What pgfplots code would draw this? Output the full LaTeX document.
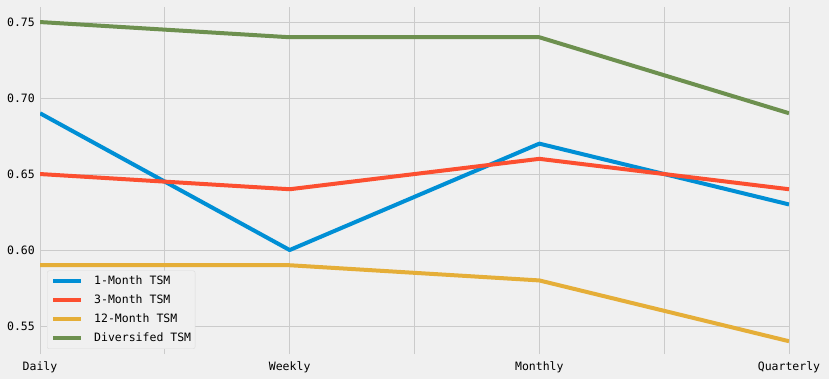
\documentclass[border=0pt]{standalone}
\usepackage{pgfplots}
\pgfplotsset{compat=1.18}
\usepackage{fontspec}
\setmainfont{DejaVu Sans Mono}
\definecolor{bgc}{HTML}{F0F0F0}
\definecolor{gridc}{HTML}{CBCBCB}
\definecolor{cA}{HTML}{008FD5}
\definecolor{cB}{HTML}{FC4F30}
\definecolor{cC}{HTML}{E5AE38}
\definecolor{cD}{HTML}{6D904F}
\begin{document}
\begin{tikzpicture}
\fill[bgc] (-40bp,-25bp) rectangle (789bp,354bp);
\useasboundingbox (-40bp,-25bp) rectangle (789bp,354bp);
\begin{axis}[
  at={(0,0)}, anchor=south west,
  scale only axis, width=749bp, height=347bp,
  xmin=0, xmax=3, ymin=0.5316, ymax=0.7599,
  axis line style={draw=none},
  major tick length=0pt,
  grid=major,
  grid style={color=gridc, line width=1bp},
  xtick={0,0.5,1,1.5,2,2.5,3},
  xticklabels={Daily,,Weekly,,Monthly,,Quarterly},
  ytick={0.55,0.60,0.65,0.70,0.75},
  yticklabel style={/pgf/number format/fixed, /pgf/number format/fixed zerofill, /pgf/number format/precision=2, anchor=east, inner sep=0pt, xshift=-5bp},
  xticklabel style={anchor=base, inner sep=0pt, yshift=-16bp},
  /pgf/number format/assume math mode=true,
  tick label style={font=\fontsize{11.5bp}{13bp}\selectfont, text=black},
  legend cell align=left,
  legend image code/.code={\draw[#1] (0bp,0bp) -- (28bp,0bp);},
  legend style={at={(0,0)}, anchor=south west, xshift=7bp, yshift=5bp,
    fill=bgc, draw=gridc!70, rounded corners=2bp,
    font=\fontsize{11.5bp}{13bp}\selectfont,
    inner xsep=4bp, inner ysep=5bp, row sep=8bp,
    nodes={text height=8.5bp, text depth=2.5bp, inner sep=0pt},
    /tikz/column 2/.style={column sep=0pt},
    /tikz/every odd column/.style={column sep=11bp}},
  every axis plot/.append style={line width=4bp, line join=round, no markers},
]
\addplot[cA] coordinates {(0,0.69) (1,0.60) (2,0.67) (3,0.63)};
\addlegendentry{1-Month TSM}
\addplot[cB] coordinates {(0,0.65) (1,0.64) (2,0.66) (3,0.64)};
\addlegendentry{3-Month TSM}
\addplot[cC] coordinates {(0,0.59) (1,0.59) (2,0.58) (3,0.54)};
\addlegendentry{12-Month TSM}
\addplot[cD] coordinates {(0,0.75) (1,0.74) (2,0.74) (3,0.69)};
\addlegendentry{Diversifed TSM}
\end{axis}
\end{tikzpicture}
\end{document}
